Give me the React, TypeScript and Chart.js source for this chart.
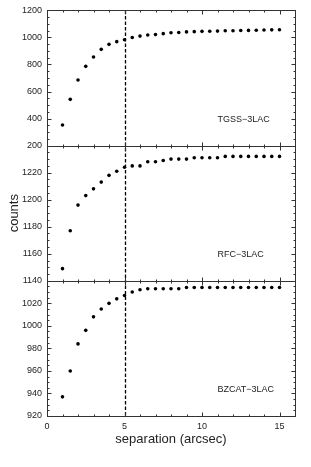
import React, { useEffect, useRef } from 'react';
import { Chart, registerables } from 'chart.js';

Chart.register(...registerables);

// ---- data ----
const separation = [1, 1.5, 2, 2.5, 3, 3.5, 4, 4.5, 5, 5.5, 6, 6.5, 7, 7.5, 8, 8.5, 9, 9.5, 10, 10.5, 11, 11.5, 12, 12.5, 13, 13.5, 14, 14.5, 15];
const tgssCounts = [352, 542, 685, 786, 855, 912, 949, 969, 983, 1000, 1010, 1018, 1021, 1028, 1035, 1037, 1041, 1043, 1045, 1046, 1047, 1049, 1050, 1051, 1052, 1053, 1055, 1056, 1057];
const rfcCounts = [1149, 1177, 1196, 1203, 1208, 1213, 1218, 1221, 1224, 1225, 1225, 1228, 1228, 1229, 1230, 1230, 1230, 1231, 1231, 1231, 1231, 1232, 1232, 1232, 1232, 1232, 1232, 1232, 1232];
const bzcatCounts = [937, 960, 984, 996, 1008, 1015, 1020, 1024, 1027, 1030, 1032, 1033, 1033, 1033, 1033, 1033, 1034, 1034, 1034, 1034, 1034, 1034, 1034, 1034, 1034, 1034, 1034, 1034, 1034];

const panelNames = ['TGSS\u22123LAC', 'RFC\u22123LAC', 'BZCAT\u22123LAC'];
const xTickValues = [0, 5, 10, 15];
const tgssTicks = [200, 400, 600, 800, 1000, 1200];
const rfcTicks = [1140, 1160, 1180, 1200, 1220];
const bzcatTicks = [920, 940, 960, 980, 1000, 1020];
const xRange = [0, 16];
const tgssRange = [200, 1200];
const rfcRange = [1140, 1240];
const bzcatRange = [920, 1040];
const cutoff = 5;

const FONT = 'Liberation Sans, Arial, Helvetica, sans-serif';
const TEXT = '#222';
const LINE = '#333';

const panels = [
  { id: 'yA', range: tgssRange, ticks: tgssTicks, major: 200, minor: 50, label: panelNames[0], values: tgssCounts },
  { id: 'yB', range: rfcRange, ticks: rfcTicks, major: 20, minor: 5, label: panelNames[1], values: rfcCounts },
  { id: 'yC', range: bzcatRange, ticks: bzcatTicks, major: 20, minor: 5, label: panelNames[2], values: bzcatCounts },
];

const panelPlugin = {
  id: 'panelPlugin',
  beforeDatasetsDraw(chart: any) {
    const ctx = chart.ctx;
    const xs = chart.scales.x;
    const { top, bottom } = chart.chartArea;
    const px = Math.round(xs.getPixelForValue(cutoff)) + 0.5;
    ctx.save();
    ctx.strokeStyle = '#000';
    ctx.lineWidth = 1.3;
    ctx.setLineDash([3.5, 2]);
    ctx.beginPath();
    ctx.moveTo(px, top);
    ctx.lineTo(px, bottom);
    ctx.stroke();
    ctx.restore();
  },
  afterDatasetsDraw(chart: any) {
    const ctx = chart.ctx;
    const xs = chart.scales.x;
    const { left, right } = chart.chartArea;
    const L = Math.round(left) + 0.5;
    const R = Math.round(right) + 0.5;
    ctx.save();
    ctx.strokeStyle = LINE;
    ctx.lineWidth = 1;
    const seg = (x1: number, y1: number, x2: number, y2: number) => {
      ctx.beginPath();
      ctx.moveTo(x1, y1);
      ctx.lineTo(x2, y2);
      ctx.stroke();
    };
    panels.forEach((p) => {
      const ys = chart.scales[p.id];
      const T = Math.round(ys.top) + 0.5;
      const B = Math.round(ys.bottom) + 0.5;
      ctx.strokeRect(L, T, R - L, B - T);
      for (let v = xRange[0]; v <= xRange[1]; v += 1) {
        const px = Math.round(xs.getPixelForValue(v)) + 0.5;
        const len = v % 5 === 0 ? 4 : 2;
        seg(px, B, px, B - len);
        seg(px, T, px, T + len);
      }
      for (let v = p.range[0]; v <= p.range[1]; v += p.minor) {
        const py = Math.round(ys.getPixelForValue(v)) + 0.5;
        const len = (v - p.range[0]) % p.major === 0 ? 4 : 2;
        seg(L, py, L + len, py);
        seg(R, py, R - len, py);
      }
      ctx.fillStyle = TEXT;
      ctx.font = `9px ${FONT}`;
      ctx.textAlign = 'left';
      ctx.textBaseline = 'middle';
      ctx.fillText(p.label, left + 170.5, ys.bottom - 26.5);
    });
    ctx.restore();
  },
};

function yScale(p: any, extra: any = {}) {
  return {
    type: 'linear',
    position: 'left',
    stack: 'panels',
    stackWeight: 1,
    min: p.range[0],
    max: p.range[1],
    grid: { display: false, drawTicks: false },
    border: { display: false },
    ticks: {
      padding: 5,
      autoSkip: false,
      color: TEXT,
      font: { family: FONT, size: 9 },
      callback: (v: any) => String(v),
    },
    afterBuildTicks: (s: any) => {
      s.ticks = p.ticks.map((v: number) => ({ value: v }));
    },
    afterFit: (s: any) => {
      s.width = 47;
    },
    ...extra,
  };
}

export default function App() {
  const ref = useRef<HTMLCanvasElement | null>(null);
  useEffect(() => {
    if (!ref.current) return;
    const datasets = panels.map((p) => ({
      label: p.label,
      data: separation.map((x, i) => ({ x, y: p.values[i] })),
      yAxisID: p.id,
      showLine: false,
      pointRadius: 1.8,
      pointBackgroundColor: '#000',
      pointBorderWidth: 0,
      borderColor: '#000',
    }));
    const chart = new Chart(ref.current, {
      type: 'scatter',
      data: { datasets } as any,
      options: {
        responsive: false,
        animation: false,
        layout: { padding: { top: 9, right: 16, left: 0, bottom: 0 } },
        plugins: { legend: { display: false }, tooltip: { enabled: false } },
        scales: {
          x: {
            type: 'linear',
            min: xRange[0],
            max: xRange[1],
            grid: { display: false, drawTicks: false },
            border: { display: false },
            ticks: {
              padding: 5,
              autoSkip: false,
              maxRotation: 0,
              color: TEXT,
              font: { family: FONT, size: 9 },
              callback: (v: any) => String(v),
            },
            afterBuildTicks: (s: any) => {
              s.ticks = xTickValues.map((v) => ({ value: v }));
            },
            afterFit: (s: any) => {
              s.height = 51;
            },
            title: {
              display: true,
              text: 'separation (arcsec)',
              color: TEXT,
              font: { family: FONT, size: 13 },
              padding: { top: 0, bottom: 20 },
            },
          },
          yC: yScale(panels[2]),
          yB: yScale(panels[1], {
            title: {
              display: true,
              text: 'counts',
              color: TEXT,
              font: { family: FONT, size: 13 },
              padding: { top: 7, bottom: 0 },
            },
          }),
          yA: yScale(panels[0]),
        } as any,
      },
      plugins: [panelPlugin],
    });
    return () => chart.destroy();
  }, []);
  return (
    <div style={{ position: 'fixed', left: 0, top: 0, width: 311, height: 467, background: '#fff' }}>
      <canvas ref={ref} width={311} height={467} style={{ display: 'block' }} />
    </div>
  );
}
